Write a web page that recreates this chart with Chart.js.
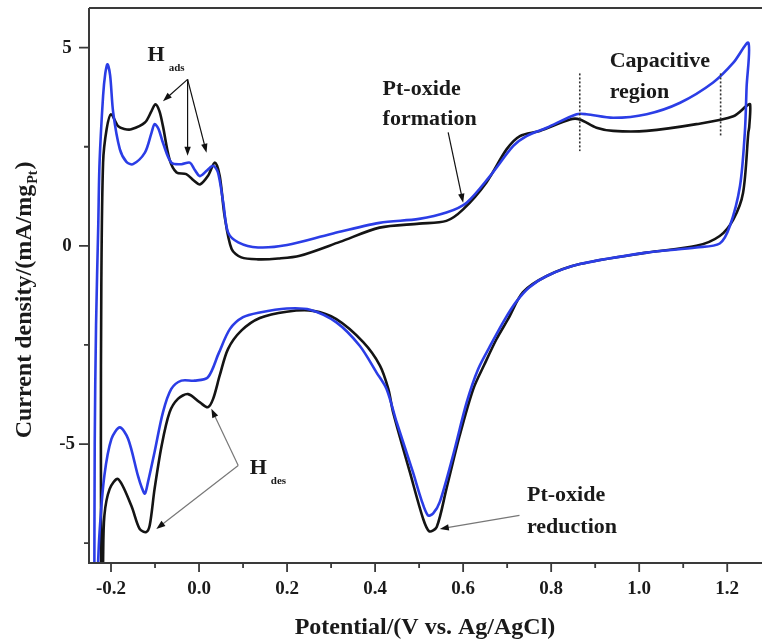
<!DOCTYPE html>
<html><head><meta charset="utf-8">
<script src="https://cdn.jsdelivr.net/npm/chart.js@4.4.0/dist/chart.umd.min.js"></script>
<style>html,body{margin:0;padding:0;background:#fff;}#wrap{width:762px;height:643px;}</style>
</head><body><div id="wrap"><canvas id="c" width="762" height="643"></canvas></div>
<script>
// ---- data (potential V vs Ag/AgCl, current density mA/mg_Pt) ----
const blueCurve = [
 [-0.238,-9.5],[-0.237,-5],[-0.234,-2],[-0.229,0.5],[-0.226,2.1],[-0.218,3.78],[-0.213,4.35],[-0.208,4.58],[-0.202,4.3],
 [-0.195,3.36],[-0.180,2.44],[-0.165,2.12],[-0.150,2.06],[-0.123,2.35],[-0.108,2.85],[-0.101,3.07],[-0.092,2.95],
 [-0.082,2.60],[-0.063,2.10],[-0.040,2.06],[-0.021,2.10],[-0.010,1.92],[0.002,1.76],[0.018,1.90],[0.032,2.02],
 [0.043,1.85],[0.055,1.09],[0.066,0.34],[0.089,0.09],[0.134,-0.04],[0.200,0.02],[0.300,0.30],[0.410,0.58],[0.500,0.68],
 [0.562,0.84],[0.608,1.09],[0.661,1.76],[0.714,2.52],[0.744,2.77],[0.790,2.98],[0.858,3.32],[0.880,3.32],[0.941,3.23],
 [1.017,3.32],[1.093,3.61],[1.168,4.12],[1.214,4.62],[1.248,5.12],
 [1.244,4.0],[1.240,2.86],[1.229,1.51],[1.206,0.50],[1.183,0.06],[1.130,-0.04],[1.017,-0.17],[0.865,-0.46],[0.790,-0.76],
 [0.750,-1.05],[0.720,-1.42],[0.695,-1.85],[0.665,-2.45],[0.634,-3.11],[0.608,-3.95],[0.577,-5.29],[0.547,-6.46],
 [0.532,-6.75],[0.520,-6.80],[0.505,-6.40],[0.486,-5.71],[0.449,-4.45],[0.426,-3.61],[0.403,-3.19],[0.365,-2.52],
 [0.312,-1.93],[0.252,-1.61],[0.199,-1.58],[0.138,-1.68],[0.100,-1.80],[0.070,-2.10],[0.045,-2.70],[0.020,-3.32],
 [-0.010,-3.40],[-0.040,-3.40],[-0.063,-3.61],[-0.082,-4.20],[-0.101,-5.20],[-0.116,-5.96],[-0.123,-6.25],[-0.130,-6.10],
 [-0.139,-5.79],[-0.161,-4.87],[-0.180,-4.58],[-0.199,-4.87],[-0.215,-5.79],[-0.226,-7.22],[-0.231,-8.5],[-0.233,-9.5]
];
const blackCurve = [
 [-0.222,-9.5],[-0.223,-5],[-0.222,-1],[-0.218,2.10],[-0.210,2.94],[-0.200,3.32],[-0.184,3.02],[-0.170,2.95],[-0.154,2.94],
 [-0.123,3.11],[-0.108,3.40],[-0.099,3.57],[-0.090,3.40],[-0.082,3.02],[-0.067,2.18],[-0.051,1.85],[-0.029,1.81],
 [-0.012,1.65],[0.002,1.55],[0.020,1.76],[0.036,2.10],[0.047,1.76],[0.058,0.76],[0.074,-0.08],[0.096,-0.29],[0.134,-0.34],
 [0.180,-0.32],[0.229,-0.25],[0.320,0.10],[0.410,0.46],[0.500,0.56],[0.562,0.63],[0.600,0.92],[0.653,1.60],[0.699,2.44],
 [0.729,2.77],[0.774,2.90],[0.843,3.19],[0.865,3.19],[0.903,2.98],[0.941,2.90],[1.017,2.90],[1.130,3.07],[1.214,3.27],
 [1.244,3.53],[1.252,3.57],
 [1.250,3.0],[1.248,2.86],[1.236,1.34],[1.214,0.67],[1.183,0.25],[1.130,0.0],[1.017,-0.17],[0.865,-0.46],[0.790,-0.76],
 [0.736,-1.17],[0.702,-1.85],[0.676,-2.35],[0.648,-3.00],[0.623,-3.61],[0.592,-4.79],[0.562,-6.13],[0.540,-7.09],
 [0.523,-7.20],[0.509,-6.88],[0.479,-5.71],[0.441,-4.20],[0.430,-3.61],[0.411,-3.02],[0.373,-2.43],[0.312,-1.85],
 [0.259,-1.64],[0.199,-1.66],[0.138,-1.82],[0.096,-2.14],[0.066,-2.60],[0.047,-3.27],[0.032,-3.86],[0.020,-4.07],
 [0.002,-3.95],[-0.025,-3.74],[-0.048,-3.86],[-0.067,-4.20],[-0.085,-5.04],[-0.101,-6.13],[-0.112,-7.05],[-0.120,-7.22],
 [-0.135,-7.14],[-0.154,-6.55],[-0.184,-5.88],[-0.203,-6.13],[-0.215,-6.80],[-0.218,-7.97],[-0.219,-9.5]
];
const xMajorTicks = [-0.2,0.0,0.2,0.4,0.6,0.8,1.0,1.2];
const xTickLabels = ['-0.2','0.0','0.2','0.4','0.6','0.8','1.0','1.2'];
const xMinorTicks = [-0.1,0.1,0.3,0.5,0.7,0.9,1.1];
const yMajorTicks = [-5,0,5];
const yTickLabels = ['-5','0','5'];
const yMinorTicks = [-7.5,-2.5,2.5];
const xTitle = 'Potential/(V vs. Ag/AgCl)';
const yTitleMain = 'Current density/(mA/mg';
const yTitleSub = 'Pt';
const yTitleEnd = ')';
// dotted boundary lines of capacitive region: [x, yTop, yBottom]
const capLines = [[0.865,4.35,2.39],[1.185,4.35,2.77]];
// annotations (data coords)
const labels = [
 {t:'H', sub:'ads', x:-0.117, y:4.80},
 {t:'Pt-oxide', x:0.417, y:3.95},
 {t:'formation', x:0.417, y:3.19},
 {t:'Capacitive', x:0.933, y:4.66},
 {t:'region', x:0.933, y:3.88},
 {t:'H', sub:'des', x:0.115, y:-5.60},
 {t:'Pt-oxide', x:0.745, y:-6.30},
 {t:'reduction', x:0.745, y:-7.09}
];
const arrows = [
 {from:[-0.026,4.20], to:[-0.082,3.65], c:'#111'},
 {from:[-0.026,4.20], to:[-0.026,2.27], c:'#111'},
 {from:[-0.026,4.20], to:[0.017,2.35], c:'#111'},
 {from:[0.566,2.86], to:[0.600,1.09], c:'#111'},
 {from:[0.089,-5.54], to:[0.028,-4.11], c:'#777'},
 {from:[0.089,-5.54], to:[-0.097,-7.14], c:'#777'},
 {from:[0.728,-6.80], to:[0.547,-7.14], c:'#777'}
];

const SERIF = '"Liberation Serif","DejaVu Serif",serif';
const toPts = a => a.map(p => ({x:p[0], y:p[1]}));

const deco = {
 id:'deco',
 afterDraw(chart){
  const {ctx, chartArea:ca, scales:{x, y}} = chart;
  const X = v => x.getPixelForValue(v), Y = v => y.getPixelForValue(v);
  ctx.save();
  // axes frame
  ctx.strokeStyle = '#3a3a3a'; ctx.lineWidth = 2;
  ctx.beginPath();
  ctx.moveTo(ca.left, ca.top); ctx.lineTo(chart.width, ca.top);
  ctx.moveTo(ca.left, ca.top); ctx.lineTo(ca.left, ca.bottom);
  ctx.lineTo(chart.width, ca.bottom);
  ctx.stroke();
  // ticks
  ctx.lineWidth = 1.8;
  ctx.beginPath();
  xMajorTicks.forEach(v => { ctx.moveTo(X(v), ca.bottom); ctx.lineTo(X(v), ca.bottom + 9); });
  xMinorTicks.forEach(v => { ctx.moveTo(X(v), ca.bottom); ctx.lineTo(X(v), ca.bottom + 5); });
  yMajorTicks.forEach(v => { ctx.moveTo(ca.left, Y(v)); ctx.lineTo(ca.left - 10, Y(v)); });
  yMinorTicks.forEach(v => { ctx.moveTo(ca.left, Y(v)); ctx.lineTo(ca.left - 5, Y(v)); });
  ctx.stroke();
  // dotted lines
  ctx.setLineDash([2,2]); ctx.lineWidth = 1.6; ctx.strokeStyle = '#333';
  capLines.forEach(l => { ctx.beginPath(); ctx.moveTo(X(l[0]), Y(l[1])); ctx.lineTo(X(l[0]), Y(l[2])); ctx.stroke(); });
  ctx.setLineDash([]);
  // arrows
  arrows.forEach(a => {
   const x0 = X(a.from[0]), y0 = Y(a.from[1]), x1 = X(a.to[0]), y1 = Y(a.to[1]);
   const ang = Math.atan2(y1 - y0, x1 - x0);
   ctx.strokeStyle = a.c; ctx.fillStyle = '#111'; ctx.lineWidth = 1.2;
   ctx.beginPath(); ctx.moveTo(x0, y0); ctx.lineTo(x1 - 6*Math.cos(ang), y1 - 6*Math.sin(ang)); ctx.stroke();
   ctx.beginPath();
   ctx.moveTo(x1, y1);
   ctx.lineTo(x1 - 9*Math.cos(ang) + 3.2*Math.sin(ang), y1 - 9*Math.sin(ang) - 3.2*Math.cos(ang));
   ctx.lineTo(x1 - 9*Math.cos(ang) - 3.2*Math.sin(ang), y1 - 9*Math.sin(ang) + 3.2*Math.cos(ang));
   ctx.closePath(); ctx.fill();
  });
  // annotation texts
  ctx.fillStyle = '#1a1a1a'; ctx.textBaseline = 'middle'; ctx.textAlign = 'left';
  labels.forEach(l => {
   ctx.font = 'bold 22px ' + SERIF;
   const px = X(l.x), py = Y(l.y);
   ctx.fillText(l.t, px, py);
   if (l.sub) {
    const w = ctx.measureText(l.t).width;
    ctx.font = 'bold 11px ' + SERIF;
    ctx.fillText(l.sub, px + w + 4, py + 13);
   }
  });
  // x title
  ctx.font = 'bold 24px ' + SERIF; ctx.textAlign = 'center';
  ctx.fillText(xTitle, 425, 628);
  // y title (rotated, with subscript)
  ctx.translate(25, 300); ctx.rotate(-Math.PI/2);
  ctx.font = 'bold 24px ' + SERIF;
  const w1 = ctx.measureText(yTitleMain).width;
  const w3 = ctx.measureText(yTitleEnd).width;
  ctx.font = 'bold 14px ' + SERIF;
  const w2 = ctx.measureText(yTitleSub).width;
  let sx = -(w1 + w2 + w3 + 2)/2;
  ctx.textAlign = 'left';
  ctx.font = 'bold 24px ' + SERIF; ctx.fillText(yTitleMain, sx, 0);
  ctx.font = 'bold 14px ' + SERIF; ctx.fillText(yTitleSub, sx + w1 + 1, 8);
  ctx.font = 'bold 24px ' + SERIF; ctx.fillText(yTitleEnd, sx + w1 + w2 + 2, 0);
  ctx.restore();
 }
};

new Chart(document.getElementById('c'), {
 type:'scatter',
 data:{ datasets:[
  {label:'blue', data:toPts(blueCurve), showLine:true, borderColor:'#2b3de6', borderWidth:2.6, pointRadius:0, tension:0.3, fill:false},
  {label:'black', data:toPts(blackCurve), showLine:true, borderColor:'#141414', borderWidth:2.6, pointRadius:0, tension:0.3, fill:false}
 ]},
 options:{
  responsive:false, animation:false, devicePixelRatio:1,
  layout:{padding:{top:8, right:0, left:0, bottom:0}},
  plugins:{legend:{display:false}, tooltip:{enabled:false}},
  scales:{
   x:{type:'linear', min:-0.25, max:1.279,
      grid:{display:false, drawTicks:false}, border:{display:false},
      afterBuildTicks: s => { s.ticks = xMajorTicks.map(v => ({value:v})); },
      afterFit: s => { s.height = 80; s.paddingLeft = 0; s.paddingRight = 0; },
      ticks:{padding:15, color:'#1a1a1a', font:{family:SERIF, size:19, weight:'bold'},
             callback:(v, i) => xTickLabels[i]}},
   y:{type:'linear', min:-8, max:6,
      grid:{display:false, drawTicks:false}, border:{display:false},
      afterBuildTicks: s => { s.ticks = yMajorTicks.map(v => ({value:v})); },
      afterFit: s => { s.width = 89; s.paddingTop = 0; s.paddingBottom = 0; },
      ticks:{padding:14, crossAlign:'center', color:'#1a1a1a', font:{family:SERIF, size:19, weight:'bold'},
             callback:(v, i) => yTickLabels[i]}}
  }
 },
 plugins:[deco]
});
</script></body></html>
